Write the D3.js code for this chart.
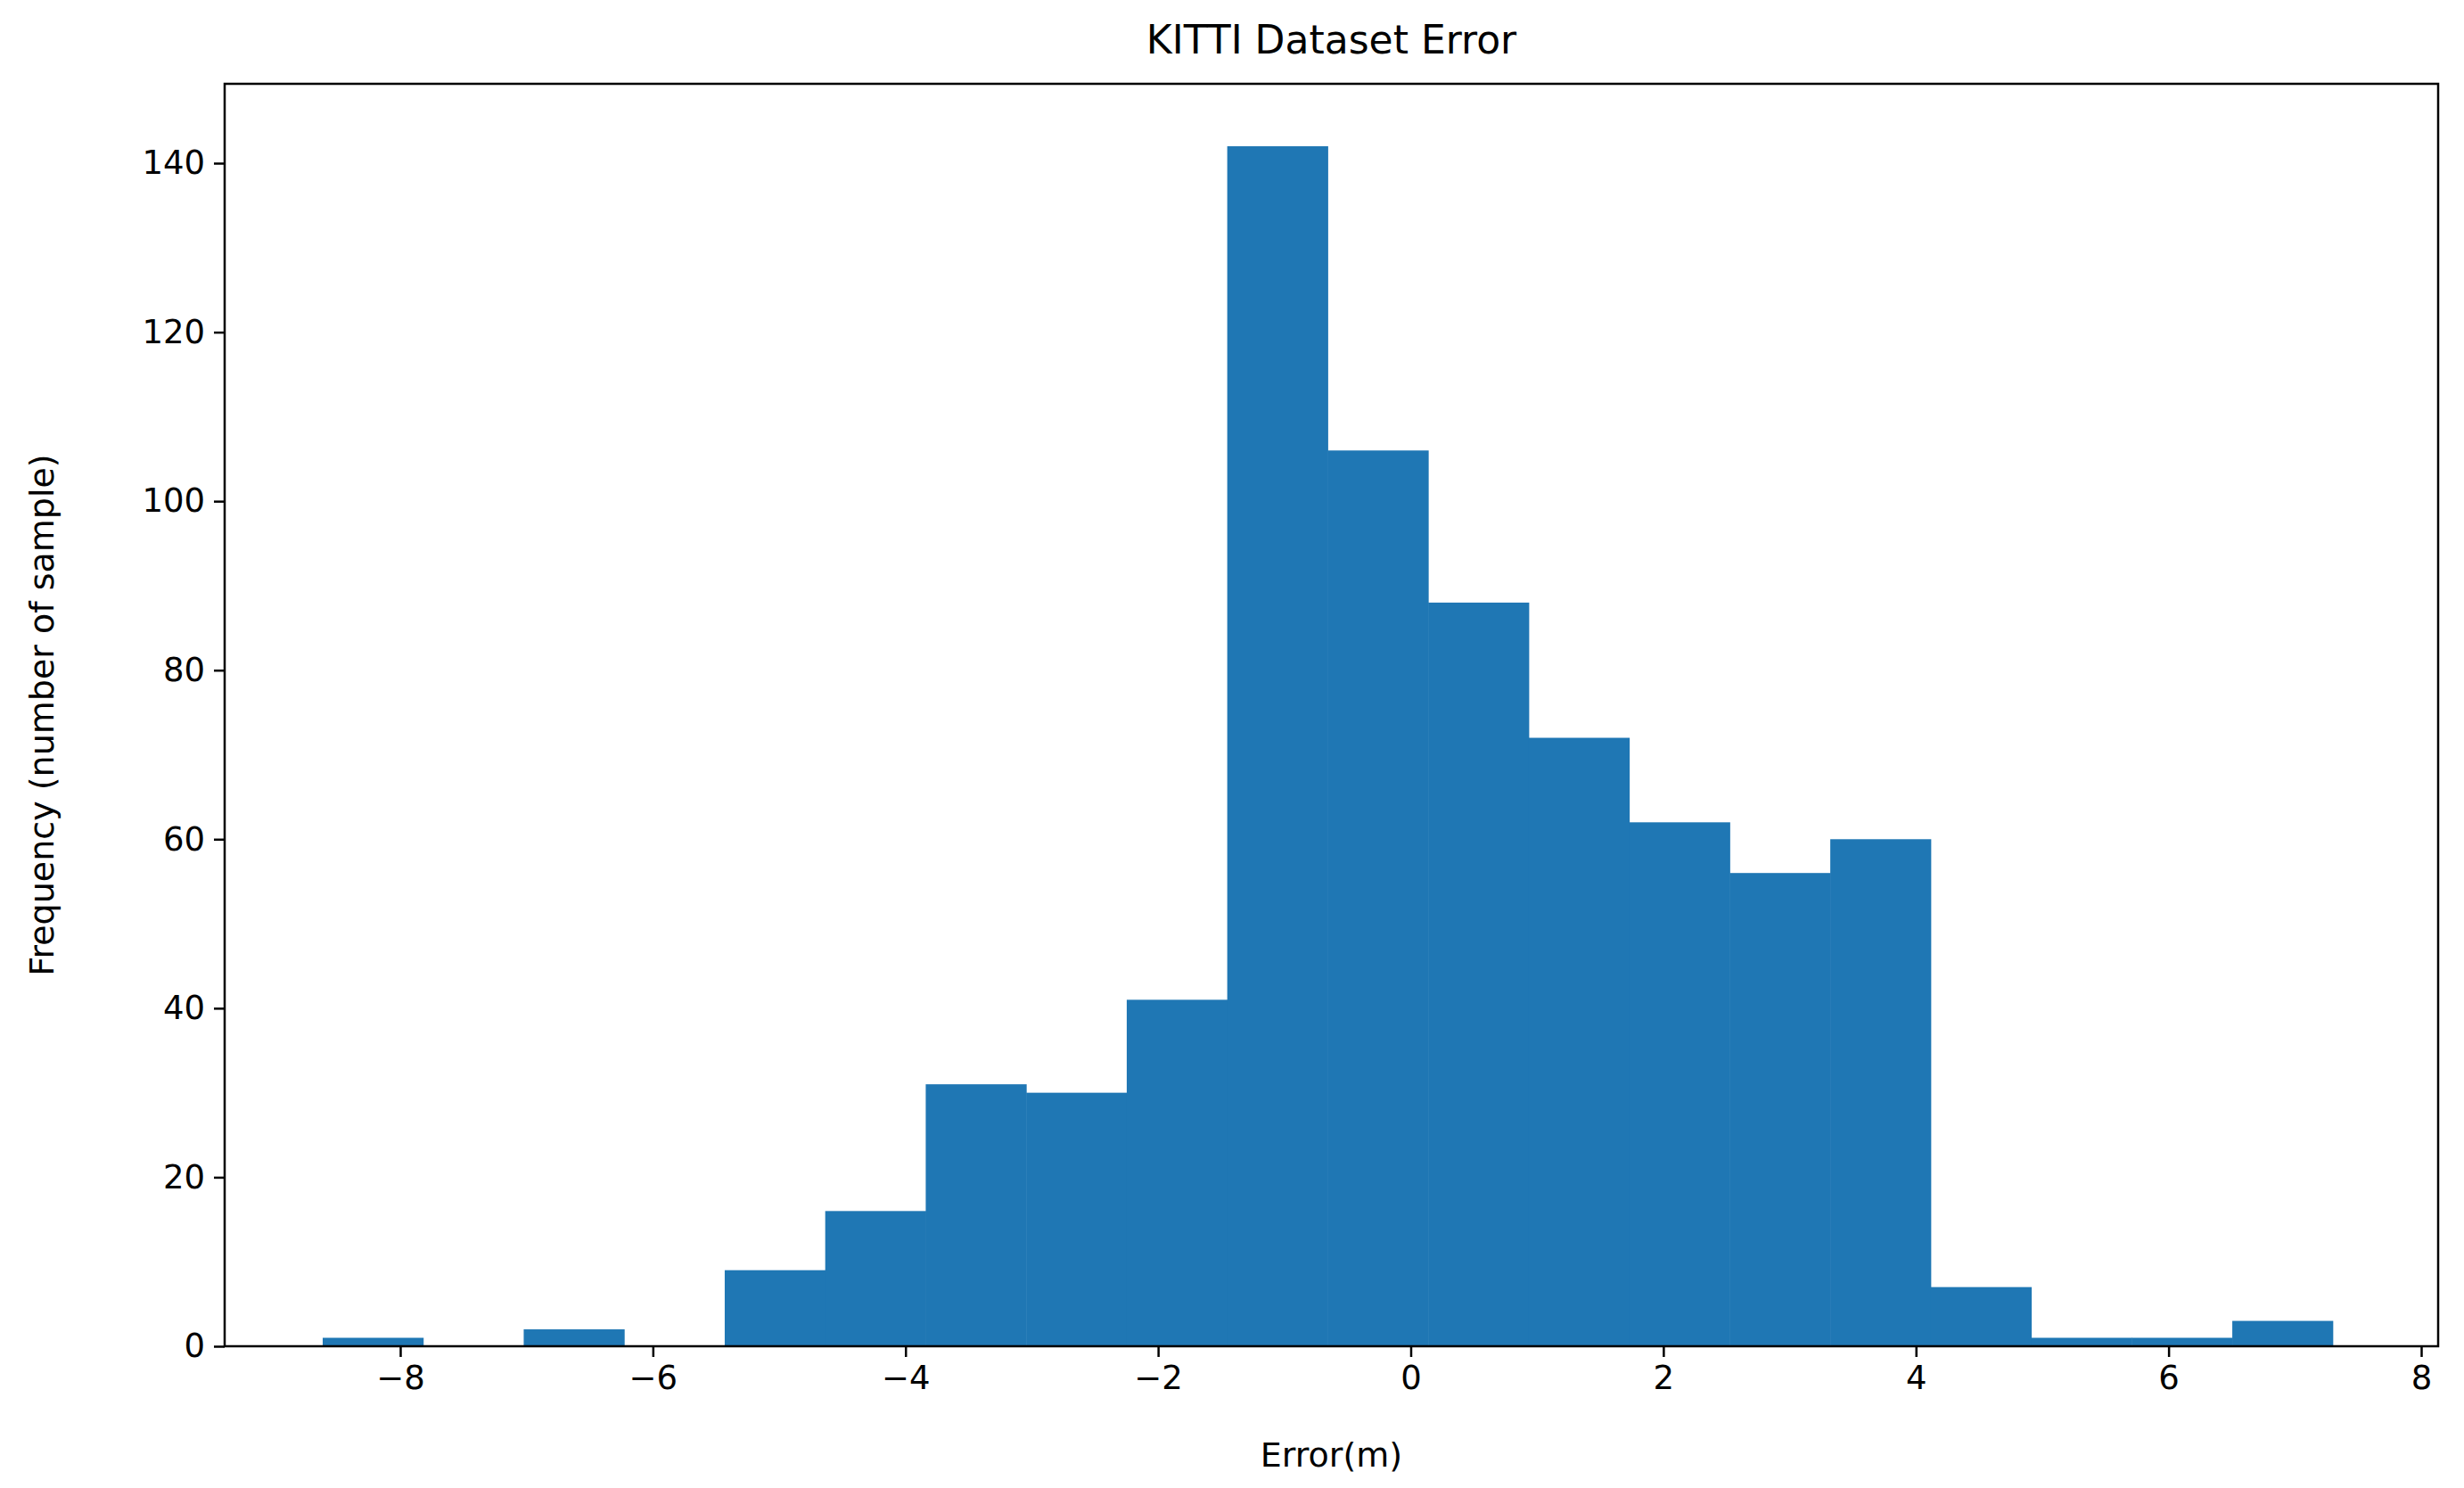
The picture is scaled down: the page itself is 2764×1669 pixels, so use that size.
<!DOCTYPE html>
<html><head><meta charset="utf-8">
<script src="https://cdn.jsdelivr.net/npm/d3@7"></script>
<style>body{margin:0;background:#fff}text{font-family:"DejaVu Sans",sans-serif}</style>
</head><body>
<script>
// histogram of KITTI error, 20 bins
const binStart = -8.614;
const binEnd = 7.30;
const counts = [1, 0, 2, 0, 9, 16, 31, 30, 41, 142, 106, 88, 72, 62, 56, 60, 7, 1, 1, 3];
const xTicks = [-8, -6, -4, -2, 0, 2, 4, 6, 8];
const yTicks = [0, 20, 40, 60, 80, 100, 120, 140];

const W = 2764, H = 1669;
const m = {l: 252, r: 29, t: 94, b: 159};
const svg = d3.select("body").append("svg").attr("width", W).attr("height", H);

const x = d3.scaleLinear().domain([-8.614 - 0.8, 8.27]).range([m.l, W - m.r]);
// calibrate: -8 -> 449, 8 -> 2716
x.domain([-8 - (449 - m.l) / 141.7, 8 + (W - m.r - 2716) / 141.7]);
const y = d3.scaleLinear().domain([0, 140]).range([H - m.b, 183]);
y.domain([0, 140 * (H - m.b - y(140) ) / (H - m.b - 183)]);
const y0 = H - m.b;
y.domain([0, 140]).range([y0, 183]);
const yTop = y.invert(m.t);
y.domain([0, yTop]).range([y0, m.t]);

const bw = (binEnd - binStart) / counts.length;
svg.append("g").selectAll("rect").data(counts).join("rect")
  .attr("x", (d, i) => x(binStart + i * bw))
  .attr("width", x(binStart + bw) - x(binStart) + 0.5)
  .attr("y", d => y(d)).attr("height", d => y0 - y(d))
  .attr("fill", "#1f77b4");

const fmt = d => d < 0 ? "\u2212" + Math.abs(d) : d;
const gx = svg.append("g").attr("transform", `translate(0,${y0})`)
  .call(d3.axisBottom(x).tickValues(xTicks).tickFormat(fmt).tickSize(12).tickPadding(10));
const gy = svg.append("g").attr("transform", `translate(${m.l},0)`)
  .call(d3.axisLeft(y).tickValues(yTicks).tickSize(12).tickPadding(10));
[gx, gy].forEach(g => {
  g.select(".domain").remove();
  g.selectAll("text").attr("font-size", 37).attr("fill", "#000");
  g.selectAll("line").attr("stroke", "#000").attr("stroke-width", 2.5);
});
svg.append("rect").attr("x", m.l).attr("y", m.t).attr("width", W - m.l - m.r).attr("height", y0 - m.t)
  .attr("fill", "none").attr("stroke", "#000").attr("stroke-width", 2.5);

svg.append("text").attr("x", (m.l + W - m.r) / 2).attr("y", 60).attr("text-anchor", "middle")
  .attr("font-size", 44).text("KITTI Dataset Error");
svg.append("text").attr("x", (m.l + W - m.r) / 2).attr("y", 1645).attr("text-anchor", "middle")
  .attr("font-size", 38).text("Error(m)");
svg.append("text").attr("transform", `translate(60,${(m.t + y0) / 2}) rotate(-90)`).attr("text-anchor", "middle")
  .attr("font-size", 38).text("Frequency (number of sample)");
</script>
</body></html>
